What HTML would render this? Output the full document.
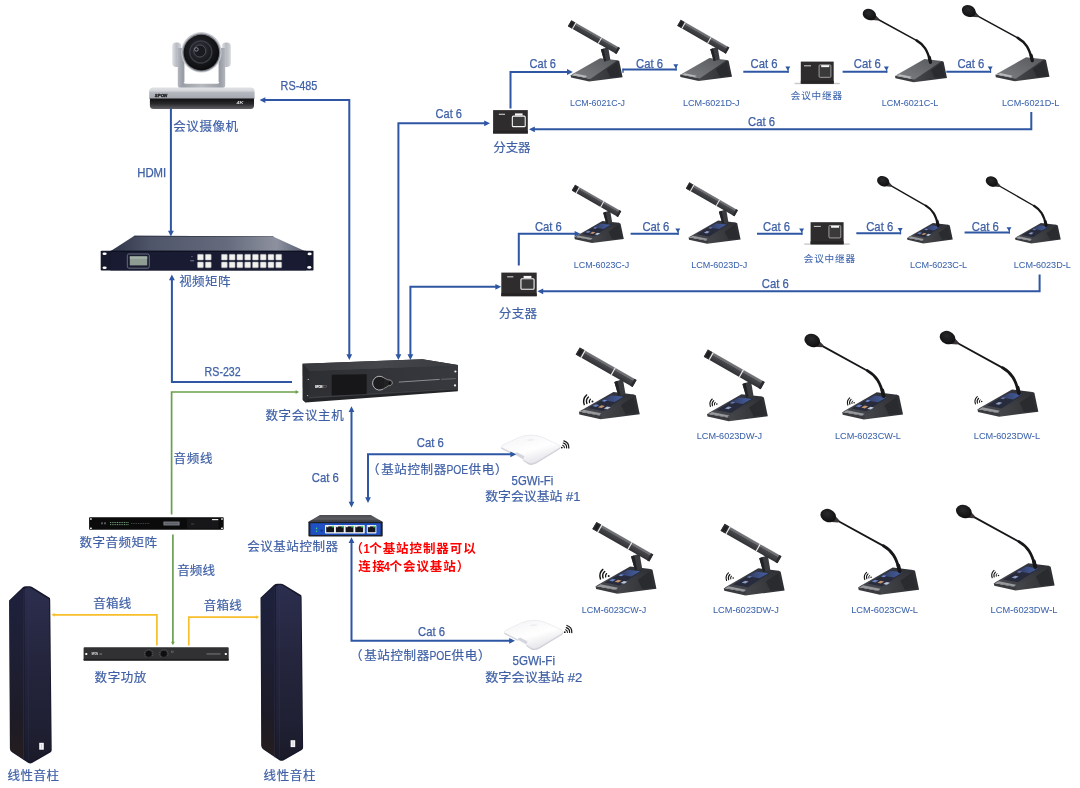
<!DOCTYPE html>
<html lang="zh-CN">
<head>
<meta charset="utf-8">
<title>数字会议系统连接图</title>
<style>
html,body{margin:0;padding:0;background:#fff;}
body{width:1080px;height:788px;overflow:hidden;}
svg{display:block;filter:blur(0.45px);}
text{font-family:"Liberation Sans","Noto Sans CJK SC",sans-serif;white-space:pre;}
text.c{font-family:"Liberation Sans","Noto Sans CJK SC",sans-serif;}
text.l{font-family:"Liberation Sans","Noto Sans CJK SC",sans-serif;}
</style>
</head>
<body>
<svg width="1080" height="788" viewBox="0 0 1080 788">
<defs>

<linearGradient id="gTop" x1="0" y1="1" x2="1" y2="0"><stop offset="0" stop-color="#7d7f83"/><stop offset="1" stop-color="#56585c"/></linearGradient>
<linearGradient id="gTopT" x1="0" y1="1" x2="1" y2="0"><stop offset="0" stop-color="#4a4c52"/><stop offset="1" stop-color="#2c2e34"/></linearGradient>
<linearGradient id="gSide" x1="0" y1="0" x2="1" y2="0"><stop offset="0" stop-color="#46474b"/><stop offset="1" stop-color="#2c2d31"/></linearGradient>
<linearGradient id="gBar" x1="0" y1="0" x2="0" y2="1"><stop offset="0" stop-color="#77787c"/><stop offset="0.28" stop-color="#6a6b6f"/><stop offset="0.34" stop-color="#47484c"/><stop offset="1" stop-color="#303135"/></linearGradient>
<linearGradient id="gScr" x1="0" y1="0" x2="1" y2="0"><stop offset="0" stop-color="#333c60"/><stop offset="1" stop-color="#4560a4"/></linearGradient>
<radialGradient id="gHead" cx="0.4" cy="0.4" r="0.7"><stop offset="0" stop-color="#2a2a2c"/><stop offset="1" stop-color="#0c0c0d"/></radialGradient>

<g id="baseP"><polygon points="18,2 40,-14 46.9,-15.3 48.6,-14.5 52,1.6 18.6,5.9" fill="url(#gSide)"/><polygon points="36,-6 46.5,-13.2 49.3,0.6 40,1.8" fill="#2a2b2f"/><polygon points="0,-0.6 19.6,3.1 18.6,5.9 0.4,1.9" fill="#3a3b3f"/><polygon points="0.6,-0.8 29.5,-17.3 46.9,-15.3 19.6,3.3" fill="url(#gTop)"/><polygon points="2.2,-0.7 4.6,-2 16.6,0.5 14.6,1.9" fill="#b9babd"/></g>
<g id="baseT"><polygon points="18,2 40,-14 46.9,-15.3 48.6,-14.5 52,1.6 18.6,5.9" fill="url(#gSide)"/><polygon points="36,-6 46.5,-13.2 49.3,0.6 40,1.8" fill="#2a2b2f"/><polygon points="0,-0.6 19.6,3.1 18.6,5.9 0.4,1.9" fill="#3a3b3f"/><polygon points="0.6,-0.8 29.5,-17.3 46.9,-15.3 19.6,3.3" fill="url(#gTopT)"/><polygon points="8,-3.6 27.5,-14.8 39,-13.2 20.5,-1.2" fill="#272b3b"/><polygon points="20,-10.6 27.8,-14.6 38,-13.2 30.6,-8.8" fill="url(#gScr)"/><polygon points="11.5,-5.3 14.3,-6.9 17.3,-6.3 14.6,-4.6" fill="#6580bd"/><polygon points="16.3,-4.3 19.2,-6 22.2,-5.4 19.4,-3.6" fill="#c4936c"/><polygon points="21.3,-3.3 24.2,-5 27.2,-4.4 24.4,-2.6" fill="#bcc5da"/><polygon points="19.5,-9.6 21.6,-10.8 24.2,-10.3 22,-9" fill="#6f8fd6"/><polygon points="1.6,-0.5 4.2,-2.1 19,0.9 17.4,2.5" fill="#97999d"/></g>
<g id="baseD"><polygon points="18,2 40,-14 46.9,-15.3 48.6,-14.5 52,1.6 18.6,5.9" fill="url(#gSide)"/><polygon points="36,-6 46.5,-13.2 49.3,0.6 40,1.8" fill="#2a2b2f"/><polygon points="0,-0.6 19.6,3.1 18.6,5.9 0.4,1.9" fill="#3a3b3f"/><polygon points="0.6,-0.8 29.5,-17.3 46.9,-15.3 19.6,3.3" fill="url(#gTopT)"/><polygon points="8,-3.6 27.5,-14.8 39,-13.2 20.5,-1.2" fill="#272b3b"/><polygon points="20,-10.6 27.8,-14.6 38,-13.2 30.6,-8.8" fill="url(#gScr)"/><polygon points="15.3,-5.0 18.2,-6.7 21.2,-6.1 18.4,-4.3" fill="#8e9cc4"/><polygon points="19.5,-9.6 21.6,-10.8 24.2,-10.3 22,-9" fill="#6577a8"/><polygon points="1.6,-0.5 4.2,-2.1 19,0.9 17.4,2.5" fill="#97999d"/></g>
<g id="micJ"><polygon points="30.3,-26 37.6,-28.5 39.8,-15.6 33.7,-14.2" fill="#3a3b3f"/><polygon points="30.3,-26 33,-27 35.6,-14.6 33.7,-14.2" fill="#222326"/><g transform="translate(-1,-52.4) rotate(29.77)"><rect x="0" y="-3.5" width="55.99" height="7" fill="url(#gBar)"/><rect x="0" y="-3.5" width="4.6" height="7" fill="#303134"/><rect x="0.9" y="-2.3" width="3" height="4.8" fill="#1f2022"/><rect x="4.8" y="-3.5" width="1" height="7" fill="#ececee"/><rect x="34.5" y="-3.5" width="1" height="7" fill="#ececee"/><rect x="53.79" y="-3.5" width="2.2" height="7" fill="#2a2b2e"/></g></g>
<g id="micL"><path d="M -19.5,-58.3 L 22.3,-35.4" stroke="#17171a" stroke-width="1.5" fill="none" stroke-linecap="round"/><path d="M 21.5,-35.9 C 29,-31.5 32.5,-26 35.2,-15" stroke="#17171a" stroke-width="2.4" fill="none" stroke-linecap="round"/><path d="M 34.3,-19 L 35.5,-14" stroke="#17171a" stroke-width="3.2" fill="none" stroke-linecap="round"/><polygon points="-22.5,-64.5 -16,-57.5 -17.2,-55.8 -26,-56.5" fill="#3b3537"/><ellipse cx="-25.6" cy="-61.7" rx="6.9" ry="5.5" transform="rotate(24 -25.6 -61.7)" fill="url(#gHead)"/></g>
<g id="wifi"><g fill="none" stroke="#161617" stroke-linecap="round"><path d="M -2.54,0.92 A 2.7,2.7 0 0 1 -1.81,-2.01" stroke-width="1.1"/><path d="M -4.79,1.74 A 5.1,5.1 0 0 1 -3.41,-3.79" stroke-width="1.2"/><path d="M -7.05,2.57 A 7.5,7.5 0 0 1 -5.02,-5.57" stroke-width="1.25"/></g><circle cx="0" cy="0" r="0.85" fill="#161617"/></g>

<linearGradient id="gSilv" x1="0" y1="0" x2="0" y2="1"><stop offset="0" stop-color="#e0e2e6"/><stop offset="0.3" stop-color="#d2d4d9"/><stop offset="0.4" stop-color="#b6b9c0"/><stop offset="1" stop-color="#a2a5ad"/></linearGradient>
<linearGradient id="gArm" x1="0" y1="0" x2="1" y2="0"><stop offset="0" stop-color="#b3b6bd"/><stop offset="0.1" stop-color="#9a9ea6"/><stop offset="0.5" stop-color="#b7babf"/><stop offset="0.9" stop-color="#9a9ea6"/><stop offset="1" stop-color="#b3b6bd"/></linearGradient>
<linearGradient id="gEar" x1="0" y1="0" x2="1" y2="0"><stop offset="0" stop-color="#dfe1e5"/><stop offset="0.5" stop-color="#b7bac1"/><stop offset="1" stop-color="#d5d7dc"/></linearGradient>
<linearGradient id="gBlk" x1="0" y1="0" x2="0" y2="1"><stop offset="0" stop-color="#0f0f11"/><stop offset="0.5" stop-color="#29292c"/><stop offset="1" stop-color="#626266"/></linearGradient>
<radialGradient id="gLens" cx="0.45" cy="0.42" r="0.62"><stop offset="0" stop-color="#3b3d44"/><stop offset="0.45" stop-color="#1d1e23"/><stop offset="1" stop-color="#0a0a0c"/></radialGradient>


<linearGradient id="gMtop" x1="0" y1="0" x2="1" y2="0"><stop offset="0" stop-color="#2f3448"/><stop offset="0.2" stop-color="#4f5568"/><stop offset="0.6" stop-color="#666c7e"/><stop offset="0.85" stop-color="#8d919f"/><stop offset="1" stop-color="#565c6f"/></linearGradient>


<linearGradient id="gHtop" x1="0" y1="0" x2="1" y2="0"><stop offset="0" stop-color="#37383c"/><stop offset="0.5" stop-color="#45464b"/><stop offset="1" stop-color="#3a3b3f"/></linearGradient>
<linearGradient id="gHfr" x1="0" y1="0" x2="1" y2="0"><stop offset="0" stop-color="#2e2f33"/><stop offset="1" stop-color="#38393e"/></linearGradient>


<linearGradient id="gSpL" x1="0" y1="0" x2="0" y2="1"><stop offset="0" stop-color="#1e213d"/><stop offset="0.4" stop-color="#1e1f34"/><stop offset="0.75" stop-color="#1d1b27"/><stop offset="1" stop-color="#251d1e"/></linearGradient>
<linearGradient id="gSpR" x1="0" y1="0" x2="0" y2="1"><stop offset="0" stop-color="#2b2e4e"/><stop offset="0.4" stop-color="#25263e"/><stop offset="0.8" stop-color="#1f2033"/><stop offset="1" stop-color="#1a1a28"/></linearGradient>
<g id="spk">
<path d="M 9.1,600.4 L 22.6,587.6 Q 24,586.3 26,586.3 L 29.5,586.3 Q 31,586.3 32.6,587.3 L 49.9,597.9 L 50.2,600 L 51.7,750.2 Q 51.7,751.8 50.3,752.5 L 32,763 Q 30.2,763.9 28.4,763 L 12.4,752.4 Q 9.9,750.8 9.9,748.4 Z" fill="#15162a"/>
<path d="M 9.6,601 L 22.9,588.6 L 23.6,759 L 12.6,751.8 Q 10.2,750.4 10.2,748.4 Z" fill="url(#gSpL)"/>
<path d="M 24.4,589 L 27,587.4 L 30,587.4 L 49.2,599.4 L 50.9,750.2 L 31.4,761.6 Q 30,762.4 28.6,761.6 L 24.6,759 Z" fill="url(#gSpR)"/>
<rect x="27.9" y="588.4" width="0.7" height="172" fill="#33355a" opacity="0.5"/>
<rect x="23" y="589" width="0.8" height="171" fill="#363858" opacity="0.6"/>
<rect x="39.2" y="742.8" width="4.6" height="6.9" fill="#f4f4f6"/>
<rect x="41.3" y="744" width="0.6" height="4.4" fill="#b5b5bd"/>
</g>

<linearGradient id="gCtl" x1="0" y1="0" x2="0" y2="1"><stop offset="0" stop-color="#4a4b4e"/><stop offset="0.6" stop-color="#5d5e62"/><stop offset="1" stop-color="#2b2c2f"/></linearGradient>

<linearGradient id="gAp" x1="0" y1="0" x2="0.6" y2="1"><stop offset="0" stop-color="#f3f3f6"/><stop offset="0.6" stop-color="#ffffff"/><stop offset="1" stop-color="#e4e4ea"/></linearGradient>
<g id="ap">
<path d="M 1.2,28.6 Q -0.4,27.6 2,26.2 L 17,19 Q 30,13.2 43,18.8 L 58.4,26 Q 60.6,27.2 59,28.8 L 36,42.8 Q 31,45.6 27.6,43.8 L 22.6,40.4 L 23.6,37.4 L 16.4,33.6 L 14,35.2 Z" fill="#cfcfd8"/>
<path d="M 1.2,27.2 Q -0.4,26.2 2,24.8 L 17,17.6 Q 30,11.8 43,17.4 L 58.4,24.6 Q 60.6,25.8 59,27.4 L 36,41.2 Q 31,44 27.6,42.2 L 22.6,39 L 23.6,36 L 16.4,32.2 L 14,33.8 Z" fill="url(#gAp)" stroke="#e2e2e9" stroke-width="0.6"/>
<path d="M 14,33.8 L 16.4,32.2 L 23.6,36 L 22.6,39 Z" fill="#d5d5dd"/>
<path d="M 27,19.8 L 33,19.4" stroke="#dddde5" stroke-width="0.7"/>
</g>
<g id="apw" fill="none" stroke="#161617" stroke-linecap="round">
<path d="M 0.9,-2.4 A 2.6 2.6 0 0 1 2.6,0.2" stroke-width="1.1"/>
<path d="M 1.5,-4.6 A 4.8 4.8 0 0 1 4.8,0.3" stroke-width="1.2"/>
<path d="M 2.1,-6.7 A 7 7 0 0 1 7,0.4" stroke-width="1.25"/>
<circle cx="0" cy="0" r="0.9" fill="#161617" stroke="none"/>
</g>

</defs>
<rect x="0" y="0" width="1080" height="788" fill="#ffffff"/>
<polyline points="518.8,265.5 518.8,233.8 577.4,233.8" fill="none" stroke="#2e56a2" stroke-width="2" stroke-linejoin="miter"/><polygon points="580.4,233.8 574.6,236.7 574.6,230.9" fill="#2e56a2"/>
<g><rect x="172.2" y="42.6" width="9" height="24.4" rx="4" fill="url(#gEar)"/><rect x="221.8" y="42.6" width="9" height="24.4" rx="4" fill="url(#gEar)"/><path d="M 177.8,48 L 177.8,85 Q 177.8,88.6 182,88.6 L 221,88.6 Q 225.2,88.6 225.2,85 L 225.2,48 L 219.4,48 L 219.4,81.8 Q 219.4,83.8 217.2,83.8 L 185.8,83.8 Q 183.6,83.8 183.6,81.8 L 183.6,48 Z" fill="url(#gArm)"/><rect x="183.2" y="60" width="1.2" height="22" fill="#8f939b"/><rect x="218.6" y="60" width="1.2" height="22" fill="#8f939b"/><circle cx="201.4" cy="52.3" r="20.2" fill="#c9ccd2"/><circle cx="201.4" cy="52.6" r="19" fill="#7f828a"/><circle cx="201.4" cy="52.6" r="17.8" fill="url(#gLens)"/><circle cx="200.8" cy="52" r="11" fill="none" stroke="#3a3c44" stroke-width="1.4"/><circle cx="199.8" cy="51" r="6" fill="#1a1b20" stroke="#50535c" stroke-width="0.9"/><circle cx="196.4" cy="49.4" r="1.8" fill="none" stroke="#9aa1b0" stroke-width="0.8"/><path d="M 152.5,87.6 L 251.5,87.6 Q 254.6,88.2 254.6,91.5 L 254.6,99 L 149.2,99 L 149.2,91.5 Q 149.2,88.2 152.5,87.6 Z" fill="url(#gSilv)"/><path d="M 149.9,98.5 L 254,98.5 L 254,105.5 Q 254,109 250.5,109 L 153.5,109 Q 149.9,109 149.9,105.5 Z" fill="url(#gBlk)"/><text x="154.8" y="96.9" font-size="4.2" font-weight="bold" font-style="italic" fill="#18181a" stroke="#18181a" stroke-width="0.3" textLength="12.4" lengthAdjust="spacingAndGlyphs">SPON</text><text x="236.4" y="104.2" font-size="3.4" font-weight="bold" font-style="italic" fill="#d8d8d8" textLength="7" lengthAdjust="spacingAndGlyphs">4K</text></g>
<g><polygon points="134.4,235.8 273,236.4 305.8,251.4 110.4,251.2" fill="url(#gMtop)"/><polygon points="134.4,235.8 273,236.4 274,236.9 133.6,236.4" fill="#272b3f"/><rect x="100.7" y="250.8" width="212.8" height="19.8" rx="0.8" fill="#15182c"/><rect x="110.5" y="251" width="195.5" height="19.4" fill="#181b31"/><rect x="110.5" y="250.8" width="195.5" height="1" fill="#0c0e1c"/><ellipse cx="104.6" cy="253.8" rx="2.1" ry="1.3" fill="#ffffff"/><ellipse cx="104.6" cy="267.8" rx="2.1" ry="1.3" fill="#ffffff"/><ellipse cx="309.6" cy="253.9" rx="2.1" ry="1.3" fill="#ffffff"/><ellipse cx="309.3" cy="267.4" rx="2.1" ry="1.3" fill="#ffffff"/><rect x="127.3" y="254" width="22" height="14.2" rx="1.6" fill="#1a1d30" stroke="#8a8ea0" stroke-width="0.7"/><rect x="129.8" y="256.4" width="17.4" height="9" fill="#8f9c93"/><rect x="129.8" y="256.4" width="17.4" height="2.4" fill="#a3aea6"/><rect x="197.5" y="254.3" width="5.9" height="5.8" rx="0.7" fill="#f1f1ee" stroke="#9a9ca6" stroke-width="0.5"/><rect x="197.5" y="262" width="5.9" height="5.8" rx="0.7" fill="#f1f1ee" stroke="#9a9ca6" stroke-width="0.5"/><rect x="205.3" y="254.3" width="5.9" height="5.8" rx="0.7" fill="#f1f1ee" stroke="#9a9ca6" stroke-width="0.5"/><rect x="205.3" y="262" width="5.9" height="5.8" rx="0.7" fill="#f1f1ee" stroke="#9a9ca6" stroke-width="0.5"/><rect x="221.4" y="254.3" width="5.9" height="5.8" rx="0.7" fill="#f1f1ee" stroke="#9a9ca6" stroke-width="0.5"/><rect x="221.4" y="262" width="5.9" height="5.8" rx="0.7" fill="#f1f1ee" stroke="#9a9ca6" stroke-width="0.5"/><rect x="229.17" y="254.3" width="5.9" height="5.8" rx="0.7" fill="#f1f1ee" stroke="#9a9ca6" stroke-width="0.5"/><rect x="229.17" y="262" width="5.9" height="5.8" rx="0.7" fill="#f1f1ee" stroke="#9a9ca6" stroke-width="0.5"/><rect x="236.94" y="254.3" width="5.9" height="5.8" rx="0.7" fill="#f1f1ee" stroke="#9a9ca6" stroke-width="0.5"/><rect x="236.94" y="262" width="5.9" height="5.8" rx="0.7" fill="#f1f1ee" stroke="#9a9ca6" stroke-width="0.5"/><rect x="244.71" y="254.3" width="5.9" height="5.8" rx="0.7" fill="#f1f1ee" stroke="#9a9ca6" stroke-width="0.5"/><rect x="244.71" y="262" width="5.9" height="5.8" rx="0.7" fill="#f1f1ee" stroke="#9a9ca6" stroke-width="0.5"/><rect x="252.48" y="254.3" width="5.9" height="5.8" rx="0.7" fill="#f1f1ee" stroke="#9a9ca6" stroke-width="0.5"/><rect x="252.48" y="262" width="5.9" height="5.8" rx="0.7" fill="#f1f1ee" stroke="#9a9ca6" stroke-width="0.5"/><rect x="260.25" y="254.3" width="5.9" height="5.8" rx="0.7" fill="#f1f1ee" stroke="#9a9ca6" stroke-width="0.5"/><rect x="260.25" y="262" width="5.9" height="5.8" rx="0.7" fill="#f1f1ee" stroke="#9a9ca6" stroke-width="0.5"/><rect x="268.02" y="254.3" width="5.9" height="5.8" rx="0.7" fill="#f1f1ee" stroke="#9a9ca6" stroke-width="0.5"/><rect x="268.02" y="262" width="5.9" height="5.8" rx="0.7" fill="#f1f1ee" stroke="#9a9ca6" stroke-width="0.5"/><rect x="275.79" y="254.3" width="5.9" height="5.8" rx="0.7" fill="#f1f1ee" stroke="#9a9ca6" stroke-width="0.5"/><rect x="275.79" y="262" width="5.9" height="5.8" rx="0.7" fill="#f1f1ee" stroke="#9a9ca6" stroke-width="0.5"/><rect x="190.2" y="260.4" width="3.8" height="0.8" fill="#9095aa"/><circle cx="192" cy="256.6" r="0.5" fill="#9095aa"/></g>
<g><polygon points="302.6,363.8 422.5,359.3 457.9,365 457.9,391.3 305.6,402.5 302.8,400" fill="#232427"/><polygon points="302.6,363.8 422.5,359.3 457.9,365 457.9,366 309.2,371.4" fill="url(#gHtop)"/><polygon points="302.6,363.8 309.2,371.2 309.2,397 305.6,402.5 302.8,400" fill="#2a2b2e"/><polygon points="309.2,371.2 457.9,365.6 457.9,388 309.2,396.8" fill="url(#gHfr)"/><polygon points="309.2,396.8 457.9,388 457.9,389.4 308.4,398.6" fill="#3d3e42"/><polygon points="331.7,374.7 366.7,374.2 366.7,394 331.7,395.5" fill="#17171a"/><circle cx="379.6" cy="383.2" r="6.7" fill="#1d1d20"/><path d="M 383.6,377.6 A 6.9 6.9 0 1 0 383.2,389" fill="none" stroke="#c3c4c7" stroke-width="0.9"/><path d="M 384,377.8 Q 387.4,380.4 390.8,380.2 Q 393,381.8 392.2,384 Q 391,386.2 388.4,385.8 Q 386,387.6 383.4,388.8" fill="#222225" stroke="#b4b5b8" stroke-width="0.7"/><circle cx="389.6" cy="383" r="1.1" fill="#0d0d0e"/><line x1="398.8" y1="382.1" x2="439.6" y2="379.4" stroke="#8b8c90" stroke-width="1"/><line x1="441.3" y1="379.3" x2="455.8" y2="378.6" stroke="#6a6b70" stroke-width="0.9"/><text x="315" y="387.6" font-size="3" font-weight="bold" fill="#ededed" stroke="#ededed" stroke-width="0.2" textLength="7.4" lengthAdjust="spacingAndGlyphs">SPON</text><rect x="323.6" y="385.6" width="2.6" height="1.7" fill="none" stroke="#8a8b8f" stroke-width="0.35"/><circle cx="455.4" cy="371.5" r="1.1" fill="#f0f0f2"/><circle cx="455" cy="385.4" r="1.1" fill="#f0f0f2"/><circle cx="308.3" cy="379.4" r="0.7" fill="#b8b8bb"/><circle cx="307.6" cy="395.6" r="0.7" fill="#b8b8bb"/></g>
<g><rect x="89.1" y="517.3" width="134.6" height="12.5" rx="0.8" fill="#0b0b0c"/><rect x="187" y="518.6" width="31.5" height="10" fill="#17171a"/><rect x="163.5" y="521.6" width="16" height="3.8" fill="#8d9096"/><rect x="164.3" y="522.3" width="14.4" height="2.4" fill="#5d6066"/><rect x="110" y="522" width="1" height="0.9" fill="#7fae8a"/><rect x="110" y="524.2" width="1" height="0.9" fill="#7fae8a"/><rect x="111.75" y="522" width="1" height="0.9" fill="#7fae8a"/><rect x="111.75" y="524.2" width="1" height="0.9" fill="#7fae8a"/><rect x="113.5" y="522" width="1" height="0.9" fill="#7fae8a"/><rect x="113.5" y="524.2" width="1" height="0.9" fill="#7fae8a"/><rect x="115.25" y="522" width="1" height="0.9" fill="#7fae8a"/><rect x="115.25" y="524.2" width="1" height="0.9" fill="#7fae8a"/><rect x="117" y="522" width="1" height="0.9" fill="#7fae8a"/><rect x="117" y="524.2" width="1" height="0.9" fill="#7fae8a"/><rect x="118.75" y="522" width="1" height="0.9" fill="#7fae8a"/><rect x="118.75" y="524.2" width="1" height="0.9" fill="#7fae8a"/><rect x="120.5" y="522" width="1" height="0.9" fill="#7fae8a"/><rect x="120.5" y="524.2" width="1" height="0.9" fill="#7fae8a"/><rect x="122.25" y="522" width="1" height="0.9" fill="#7fae8a"/><rect x="122.25" y="524.2" width="1" height="0.9" fill="#7fae8a"/><rect x="124" y="522" width="1" height="0.9" fill="#7fae8a"/><rect x="124" y="524.2" width="1" height="0.9" fill="#7fae8a"/><rect x="125.75" y="522" width="1" height="0.9" fill="#7fae8a"/><rect x="125.75" y="524.2" width="1" height="0.9" fill="#7fae8a"/><rect x="127.5" y="522" width="1" height="0.9" fill="#7fae8a"/><rect x="127.5" y="524.2" width="1" height="0.9" fill="#7fae8a"/><rect x="131" y="523" width="0.8" height="0.7" fill="#6d7074"/><rect x="132.75" y="523" width="0.8" height="0.7" fill="#6d7074"/><rect x="134.5" y="523" width="0.8" height="0.7" fill="#6d7074"/><rect x="136.25" y="523" width="0.8" height="0.7" fill="#6d7074"/><rect x="138" y="523" width="0.8" height="0.7" fill="#6d7074"/><rect x="139.75" y="523" width="0.8" height="0.7" fill="#6d7074"/><rect x="141.5" y="523" width="0.8" height="0.7" fill="#6d7074"/><rect x="143.25" y="523" width="0.8" height="0.7" fill="#6d7074"/><rect x="145" y="523" width="0.8" height="0.7" fill="#6d7074"/><rect x="146.75" y="523" width="0.8" height="0.7" fill="#6d7074"/><rect x="148.5" y="523" width="0.8" height="0.7" fill="#6d7074"/><rect x="101.5" y="522.3" width="1" height="2" fill="#9a9da2"/><rect x="104.5" y="522.3" width="1" height="2" fill="#9a9da2"/><rect x="212" y="519" width="6.3" height="1.2" fill="#e9e9e9"/><rect x="191" y="523" width="3" height="2" fill="#2c2c30"/><rect x="90" y="518.15" width="1.8" height="1.5" rx="0.5" fill="#f2f2f2"/><rect x="90" y="527.45" width="1.8" height="1.5" rx="0.5" fill="#f2f2f2"/><rect x="221.1" y="518.15" width="1.8" height="1.5" rx="0.5" fill="#f2f2f2"/><rect x="221.1" y="527.45" width="1.8" height="1.5" rx="0.5" fill="#f2f2f2"/></g>
<g><rect x="83.6" y="647.2" width="145.1" height="13.4" rx="0.8" fill="#313134"/><rect x="83.6" y="658.9" width="145.1" height="1.7" fill="#1d1d1f"/><circle cx="148.7" cy="653.8" r="3" fill="#0e0e10"/><path d="M 145.4,656.6 A 4.3 4.3 0 1 1 152,656.6" fill="none" stroke="#8d8d92" stroke-width="0.5" stroke-dasharray="0.8 1.1"/><circle cx="163.8" cy="653.8" r="3" fill="#0e0e10"/><path d="M 160.5,656.6 A 4.3 4.3 0 1 1 167.1,656.6" fill="none" stroke="#8d8d92" stroke-width="0.5" stroke-dasharray="0.8 1.1"/><rect x="85.2" y="653" width="2.1" height="1.9" rx="0.4" fill="#f4f4f4"/><rect x="224.8" y="653" width="2.1" height="1.9" rx="0.4" fill="#f4f4f4"/><text x="91.6" y="655" font-size="2.8" font-weight="bold" fill="#ececec" textLength="6.4" lengthAdjust="spacingAndGlyphs">SPON</text><rect x="99.5" y="653.4" width="2.6" height="1.2" fill="#77777b"/><rect x="206.5" y="653.3" width="14" height="1.3" fill="#6a6a6e"/><rect x="171.6" y="651" width="1.8" height="1.8" fill="none" stroke="#8a8a8e" stroke-width="0.4"/></g>
<use href="#spk" transform="translate(0,0)"/>
<use href="#spk" transform="translate(251.4,-2.6)"/>
<g><polygon points="320,515 370.8,515 382.7,521.8 308.4,521.8" fill="url(#gCtl)"/><rect x="308.4" y="521.4" width="74.3" height="15.2" rx="0.8" fill="#1d1f26"/><rect x="310.4" y="523.2" width="70.3" height="11.7" fill="#1f50c4"/><rect x="325" y="525" width="39.8" height="8.6" rx="0.8" fill="#f0f2f6"/><rect x="366.8" y="525" width="9.6" height="8.6" rx="0.8" fill="#f0f2f6"/><rect x="326.2" y="526.4" width="7.8" height="5.8" fill="#16171a"/><rect x="331.8" y="525.8" width="2.2" height="1.6" fill="#3fd15a"/><rect x="326.4" y="525.8" width="2" height="1.4" fill="#e8eaee"/><rect x="335.9" y="526.4" width="7.8" height="5.8" fill="#16171a"/><rect x="341.5" y="525.8" width="2.2" height="1.6" fill="#3fd15a"/><rect x="336.1" y="525.8" width="2" height="1.4" fill="#e8eaee"/><rect x="345.6" y="526.4" width="7.8" height="5.8" fill="#16171a"/><rect x="351.2" y="525.8" width="2.2" height="1.6" fill="#3fd15a"/><rect x="345.8" y="525.8" width="2" height="1.4" fill="#e8eaee"/><rect x="355.3" y="526.4" width="7.8" height="5.8" fill="#16171a"/><rect x="360.9" y="525.8" width="2.2" height="1.6" fill="#3fd15a"/><rect x="355.5" y="525.8" width="2" height="1.4" fill="#e8eaee"/><rect x="367.8" y="526.4" width="7.6" height="5.8" fill="#16171a"/><rect x="373.2" y="525.8" width="2.2" height="1.6" fill="#3fd15a"/><rect x="368" y="525.8" width="2" height="1.4" fill="#e8eaee"/><circle cx="316.6" cy="528.4" r="0.8" fill="#49d46a"/><circle cx="316.6" cy="531.2" r="0.8" fill="#49d46a"/><circle cx="321.6" cy="530.6" r="1.2" fill="#17337a"/></g>
<use href="#ap" transform="translate(500.6,420.4)"/>
<use href="#apw" transform="translate(561.8,447.6)"/>
<use href="#ap" transform="translate(503.6,605.6)"/>
<use href="#apw" transform="translate(564.8,632.2)"/>
<g transform="translate(493.1,110.1)"><rect x="0" y="0" width="34.7" height="23.4" fill="#2f2c2d"/><rect x="0" y="20.4" width="34.7" height="3" fill="#272425"/><rect x="19.24" y="6.07" width="12.88" height="10.47" rx="1" fill="#3b3a3b" stroke="#f4f4f4" stroke-width="1.1"/><rect x="21.86" y="3.28" width="7.63" height="2.2" fill="#f6f6f6"/><rect x="5.73" y="3.63" width="6.2" height="1.1" fill="#cfcfcf"/></g>
<g transform="translate(501.3,272.6)"><rect x="0" y="0" width="35.4" height="23.6" fill="#2f2c2d"/><rect x="0" y="20.6" width="35.4" height="3" fill="#272425"/><rect x="19.62" y="6.12" width="13.16" height="10.56" rx="1" fill="#3b3a3b" stroke="#f4f4f4" stroke-width="1.1"/><rect x="22.3" y="3.3" width="7.79" height="2.2" fill="#f6f6f6"/><rect x="5.84" y="3.66" width="6.2" height="1.1" fill="#cfcfcf"/></g>
<g transform="translate(800.8,61.6)"><rect x="-6.3" y="21.2" width="45.3" height="1.4" fill="#c9c9c9"/><rect x="0" y="0" width="32.9" height="22.1" fill="#2f2c2d"/><rect x="0" y="19.1" width="32.9" height="3" fill="#272425"/><rect x="18.27" y="3.27" width="11.83" height="12.46" rx="1" fill="#3b3a3b" stroke="#a9a9a9" stroke-width="0.9"/><rect x="20.4" y="3.54" width="7.99" height="2" fill="#f6f6f6"/><rect x="3.2" y="3.65" width="7" height="1.1" fill="#c4c4c4"/></g>
<g transform="translate(810.6,222.2)"><rect x="-6.3" y="21.2" width="45.4" height="1.4" fill="#c9c9c9"/><rect x="0" y="0" width="33" height="22.1" fill="#2f2c2d"/><rect x="0" y="19.1" width="33" height="3" fill="#272425"/><rect x="18.32" y="3.27" width="11.87" height="12.46" rx="1" fill="#3b3a3b" stroke="#a9a9a9" stroke-width="0.9"/><rect x="20.46" y="3.54" width="8.02" height="2" fill="#f6f6f6"/><rect x="3.2" y="3.65" width="7" height="1.1" fill="#c4c4c4"/></g>
<g transform="translate(570.6,75.6) scale(1)"><use href="#baseP"/><use href="#micJ"/></g>
<g transform="translate(680,75.2) scale(1)"><use href="#baseP"/><use href="#micJ"/></g>
<g transform="translate(895,76.3) scale(1)"><use href="#baseP"/><use href="#micL"/></g>
<g transform="translate(995.4,75.2) scale(1.04)"><use href="#baseP"/><use href="#micL"/></g>
<g transform="translate(574.4,237.4) scale(0.95)"><use href="#baseT"/><use href="#micJ"/></g>
<g transform="translate(688.6,237.8) scale(1)"><use href="#baseD"/><use href="#micJ"/></g>
<g transform="translate(907,238.2) scale(0.88)"><use href="#baseT"/><use href="#micL" transform="translate(35.2,-15) rotate(1.1) scale(1.04) translate(-35.2,15)"/></g>
<g transform="translate(1015,238.2) scale(0.88)"><use href="#baseD"/><use href="#micL" transform="translate(35.2,-15) rotate(1.2) scale(1.03) translate(-35.2,15)"/></g>
<g transform="translate(578.9,412.3) scale(1.17)"><use href="#baseT"/><use href="#micJ"/><use href="#wifi" transform="translate(11.6,-9.2) scale(1)"/></g>
<g transform="translate(707,414.4) scale(1.17)"><use href="#baseD"/><use href="#micJ"/><use href="#wifi" transform="translate(8.4,-8.8) scale(0.78)"/></g>
<g transform="translate(842.2,412.6) scale(1.17)"><use href="#baseT"/><use href="#micL"/><use href="#wifi" transform="translate(10.2,-8.4) scale(0.76)"/></g>
<g transform="translate(977.5,409.8) scale(1.17)"><use href="#baseD"/><use href="#micL"/><use href="#wifi" transform="translate(3.6,-7) scale(0.76)"/></g>
<g transform="translate(595.6,586.8) scale(1.17)"><use href="#baseT"/><use href="#micJ"/><use href="#wifi" transform="translate(11.2,-9.3) scale(1)"/></g>
<g transform="translate(723.8,588.6) scale(1.17)"><use href="#baseD"/><use href="#micJ"/><use href="#wifi" transform="translate(8,-9) scale(0.8)"/></g>
<g transform="translate(858.2,587.8) scale(1.17)"><use href="#baseT"/><use href="#micL"/><use href="#wifi" transform="translate(11,-9) scale(0.76)"/></g>
<g transform="translate(993.8,583.6) scale(1.17)"><use href="#baseD"/><use href="#micL"/><use href="#wifi" transform="translate(4,-7) scale(0.76)"/></g>
<polyline points="170.9,108.6 170.9,233.6" fill="none" stroke="#2e56a2" stroke-width="2" stroke-linejoin="miter"/><polygon points="170.9,236.6 168,230.8 173.8,230.8" fill="#2e56a2"/>
<polyline points="262.6,100.1 349.3,100.1 349.3,357" fill="none" stroke="#2e56a2" stroke-width="2" stroke-linejoin="miter"/><polygon points="259.6,100.1 265.4,97.2 265.4,103" fill="#2e56a2"/><polygon points="349.3,360 346.4,354.2 352.2,354.2" fill="#2e56a2"/>
<polyline points="292,381.9 171.9,381.9 171.9,277.4" fill="none" stroke="#2e56a2" stroke-width="2" stroke-linejoin="miter"/><polygon points="171.9,274.4 174.8,280.2 169,280.2" fill="#2e56a2"/>
<polyline points="398.4,357 398.4,123.3 487,123.3" fill="none" stroke="#2e56a2" stroke-width="2" stroke-linejoin="miter"/><polygon points="398.4,360 395.5,354.2 401.3,354.2" fill="#2e56a2"/><polygon points="490,123.3 484.2,126.2 484.2,120.4" fill="#2e56a2"/>
<polyline points="410.4,357 410.4,286.8 498.2,286.8" fill="none" stroke="#2e56a2" stroke-width="2" stroke-linejoin="miter"/><polygon points="410.4,360 407.5,354.2 413.3,354.2" fill="#2e56a2"/><polygon points="501.2,286.8 495.4,289.7 495.4,283.9" fill="#2e56a2"/>
<polyline points="510.5,108.4 510.5,72 569.8,72" fill="none" stroke="#2e56a2" stroke-width="2" stroke-linejoin="miter"/><polygon points="572.8,72 567,74.9 567,69.1" fill="#2e56a2"/>
<line x1="622.4" y1="69.6" x2="676.7" y2="69.6" stroke="#2e56a2" stroke-width="2"/><polygon points="673.3,64.3 678.3,64.3 675.8,68.3" fill="#2e56a2"/><line x1="676.15" y1="66.1" x2="676.15" y2="70.5" stroke="#2e56a2" stroke-width="1.1"/><line x1="623" y1="68.8" x2="623" y2="72.8" stroke="#2e56a2" stroke-width="1.4"/>
<line x1="743.3" y1="71.8" x2="788.7" y2="71.8" stroke="#2e56a2" stroke-width="2"/><polygon points="785.3,66.5 790.3,66.5 787.8,70.5" fill="#2e56a2"/><line x1="788.15" y1="68.3" x2="788.15" y2="72.7" stroke="#2e56a2" stroke-width="1.1"/>
<line x1="842.6" y1="71.8" x2="887.3" y2="71.8" stroke="#2e56a2" stroke-width="2"/><polygon points="883.9,66.5 888.9,66.5 886.4,70.5" fill="#2e56a2"/><line x1="886.75" y1="68.3" x2="886.75" y2="72.7" stroke="#2e56a2" stroke-width="1.1"/>
<line x1="946.3" y1="71.8" x2="991.1" y2="71.8" stroke="#2e56a2" stroke-width="2"/><polygon points="987.7,66.5 992.7,66.5 990.2,70.5" fill="#2e56a2"/><line x1="990.55" y1="68.3" x2="990.55" y2="72.7" stroke="#2e56a2" stroke-width="1.1"/>
<polyline points="1031.3,112 1031.3,129.3 532,129.3" fill="none" stroke="#2e56a2" stroke-width="2" stroke-linejoin="miter"/><polygon points="529,129.3 534.8,126.4 534.8,132.2" fill="#2e56a2"/>
<line x1="630.6" y1="233.8" x2="678.7" y2="233.8" stroke="#2e56a2" stroke-width="2"/><polygon points="675.3,228.5 680.3,228.5 677.8,232.5" fill="#2e56a2"/><line x1="678.15" y1="230.3" x2="678.15" y2="234.7" stroke="#2e56a2" stroke-width="1.1"/>
<line x1="757" y1="233.8" x2="802.5" y2="233.8" stroke="#2e56a2" stroke-width="2"/><polygon points="799.1,228.5 804.1,228.5 801.6,232.5" fill="#2e56a2"/><line x1="801.95" y1="230.3" x2="801.95" y2="234.7" stroke="#2e56a2" stroke-width="1.1"/>
<line x1="856.3" y1="233.3" x2="901.1" y2="233.3" stroke="#2e56a2" stroke-width="2"/><polygon points="897.7,228 902.7,228 900.2,232" fill="#2e56a2"/><line x1="900.55" y1="229.8" x2="900.55" y2="234.2" stroke="#2e56a2" stroke-width="1.1"/>
<line x1="964.6" y1="232.6" x2="1009.9" y2="232.6" stroke="#2e56a2" stroke-width="2"/><polygon points="1006.5,227.3 1011.5,227.3 1009,231.3" fill="#2e56a2"/><line x1="1009.35" y1="229.1" x2="1009.35" y2="233.5" stroke="#2e56a2" stroke-width="1.1"/>
<polyline points="1039.6,274.6 1039.6,291.3 540.4,291.3" fill="none" stroke="#2e56a2" stroke-width="2" stroke-linejoin="miter"/><polygon points="537.4,291.3 543.2,288.4 543.2,294.2" fill="#2e56a2"/>
<polyline points="351.5,409.2 351.5,504.6" fill="none" stroke="#2e56a2" stroke-width="2" stroke-linejoin="miter"/><polygon points="351.5,406.2 354.4,412 348.6,412" fill="#2e56a2"/><polygon points="351.5,507.6 348.6,501.8 354.4,501.8" fill="#2e56a2"/>
<polyline points="368,500 368,454.3 513.2,454.3" fill="none" stroke="#2e56a2" stroke-width="2" stroke-linejoin="miter"/><polygon points="368,503 365.1,497.2 370.9,497.2" fill="#2e56a2"/><polygon points="516.2,454.3 510.4,457.2 510.4,451.4" fill="#2e56a2"/>
<polyline points="351.5,540.2 351.5,640.8 512,640.8" fill="none" stroke="#2e56a2" stroke-width="2" stroke-linejoin="miter"/><polygon points="351.5,537.2 354.4,543 348.6,543" fill="#2e56a2"/><polygon points="515,640.8 509.2,643.7 509.2,637.9" fill="#2e56a2"/>
<polyline points="171.6,514.6 171.6,392 296,392" fill="none" stroke="#6aa04c" stroke-width="1.7" stroke-linejoin="miter"/><polygon points="299,392 295.6,393.9 295.6,390.1" fill="#6aa04c"/>
<polyline points="172.9,534.4 172.9,642.2" fill="none" stroke="#6aa04c" stroke-width="1.7" stroke-linejoin="miter"/><polygon points="172.9,645.2 171,641.8 174.8,641.8" fill="#6aa04c"/>
<polyline points="156.9,645.4 156.9,614.8 54.4,614.8" fill="none" stroke="#f7bf2a" stroke-width="1.7" stroke-linejoin="miter"/><polygon points="51.4,614.8 54.8,612.9 54.8,616.7" fill="#f7bf2a"/>
<polyline points="188.8,645.4 188.8,617.1 256.2,617.1" fill="none" stroke="#f7bf2a" stroke-width="1.7" stroke-linejoin="miter"/><polygon points="259.2,617.1 255.8,619 255.8,615.2" fill="#f7bf2a"/>
<text class="c" x="173.3" y="131.19" font-size="12.5" fill="#3f60a6" stroke="#3f60a6" stroke-width="0.18" textLength="64.7" lengthAdjust="spacing">会议摄像机</text>
<text class="c" x="137.2" y="176.93" font-size="12.1" fill="#3f60a6" stroke="#3f60a6" stroke-width="0.25" textLength="29" lengthAdjust="spacingAndGlyphs">HDMI</text>
<text class="c" x="280.6" y="90.43" font-size="12.1" fill="#3f60a6" stroke="#3f60a6" stroke-width="0.25" textLength="36.8" lengthAdjust="spacingAndGlyphs">RS-485</text>
<text class="c" x="179.2" y="286.19" font-size="12.5" fill="#3f60a6" stroke="#3f60a6" stroke-width="0.18" textLength="51.2" lengthAdjust="spacing">视频矩阵</text>
<text class="c" x="204.6" y="376.43" font-size="12.1" fill="#3f60a6" stroke="#3f60a6" stroke-width="0.25" textLength="36.1" lengthAdjust="spacingAndGlyphs">RS-232</text>
<text class="c" x="265.4" y="420.19" font-size="12.5" fill="#3f60a6" stroke="#3f60a6" stroke-width="0.18" textLength="78.4" lengthAdjust="spacing">数字会议主机</text>
<text class="c" x="173.6" y="462.79" font-size="12.5" fill="#3f60a6" stroke="#3f60a6" stroke-width="0.18" textLength="38.8" lengthAdjust="spacing">音频线</text>
<text class="c" x="79.4" y="546.79" font-size="12.5" fill="#3f60a6" stroke="#3f60a6" stroke-width="0.18" textLength="77.6" lengthAdjust="spacing">数字音频矩阵</text>
<text class="c" x="177.2" y="574.99" font-size="12.5" fill="#3f60a6" stroke="#3f60a6" stroke-width="0.18" textLength="37.8" lengthAdjust="spacing">音频线</text>
<text class="c" x="93.2" y="608.49" font-size="12.5" fill="#3f60a6" stroke="#3f60a6" stroke-width="0.18" textLength="38" lengthAdjust="spacing">音箱线</text>
<text class="c" x="203.8" y="609.99" font-size="12.5" fill="#3f60a6" stroke="#3f60a6" stroke-width="0.18" textLength="38" lengthAdjust="spacing">音箱线</text>
<text class="c" x="94.6" y="682.39" font-size="12.5" fill="#3f60a6" stroke="#3f60a6" stroke-width="0.18" textLength="51.6" lengthAdjust="spacing">数字功放</text>
<text class="c" x="7.4" y="779.59" font-size="12.5" fill="#3f60a6" stroke="#3f60a6" stroke-width="0.18" textLength="51.6" lengthAdjust="spacing">线性音柱</text>
<text class="c" x="263.4" y="780.19" font-size="12.5" fill="#3f60a6" stroke="#3f60a6" stroke-width="0.18" textLength="52.2" lengthAdjust="spacing">线性音柱</text>
<text class="c" x="247.2" y="550.79" font-size="12.5" fill="#3f60a6" stroke="#3f60a6" stroke-width="0.18" textLength="90.8" lengthAdjust="spacing">会议基站控制器</text>
<text class="c" y="553.49" font-size="12.5" fill="#ff0000" stroke="#ff0000" stroke-width="0" font-weight="700"><tspan x="350.4">（</tspan><tspan x="363.6" textLength="6.2" lengthAdjust="spacingAndGlyphs">1</tspan><tspan x="369.3" textLength="106.4" lengthAdjust="spacing">个基站控制器可以</tspan></text>
<text class="c" y="570.99" font-size="12.5" fill="#ff0000" stroke="#ff0000" stroke-width="0" font-weight="700"><tspan x="358.2" textLength="26.6" lengthAdjust="spacing">连接</tspan><tspan x="383.6" textLength="6.4" lengthAdjust="spacingAndGlyphs">4</tspan><tspan x="389.5" textLength="79.8" lengthAdjust="spacing">个会议基站）</tspan></text>
<text class="c" x="311.8" y="482.43" font-size="12.1" fill="#3f60a6" stroke="#3f60a6" stroke-width="0.25" textLength="27" lengthAdjust="spacingAndGlyphs">Cat 6</text>
<text class="c" x="416.8" y="446.93" font-size="12.1" fill="#3f60a6" stroke="#3f60a6" stroke-width="0.25" textLength="27" lengthAdjust="spacingAndGlyphs">Cat 6</text>
<text class="c" y="474.19" font-size="12.5" fill="#3f60a6" stroke="#3f60a6" stroke-width="0.18"><tspan x="367">（</tspan><tspan x="381.2" textLength="65" lengthAdjust="spacing">基站控制器</tspan><tspan x="446.4" textLength="21.8" lengthAdjust="spacingAndGlyphs">POE</tspan><tspan x="468.5" textLength="39" lengthAdjust="spacing">供电）</tspan></text>
<text class="c" x="511.6" y="485.13" font-size="12.1" fill="#3f60a6" stroke="#3f60a6" stroke-width="0.25" textLength="41.6" lengthAdjust="spacingAndGlyphs">5GWi-Fi</text>
<text class="c" x="485.2" y="501.29" font-size="12.5" fill="#3f60a6" stroke="#3f60a6" stroke-width="0.18" textLength="95.2" lengthAdjust="spacingAndGlyphs">数字会议基站 #1</text>
<text class="c" x="418" y="636.03" font-size="12.1" fill="#3f60a6" stroke="#3f60a6" stroke-width="0.25" textLength="27" lengthAdjust="spacingAndGlyphs">Cat 6</text>
<text class="c" y="660.39" font-size="12.5" fill="#3f60a6" stroke="#3f60a6" stroke-width="0.18"><tspan x="350">（</tspan><tspan x="364.2" textLength="65" lengthAdjust="spacing">基站控制器</tspan><tspan x="429.4" textLength="21.8" lengthAdjust="spacingAndGlyphs">POE</tspan><tspan x="451.5" textLength="39" lengthAdjust="spacing">供电）</tspan></text>
<text class="c" x="512.6" y="665.43" font-size="12.1" fill="#3f60a6" stroke="#3f60a6" stroke-width="0.25" textLength="42.4" lengthAdjust="spacingAndGlyphs">5GWi-Fi</text>
<text class="c" x="485.2" y="681.79" font-size="12.5" fill="#3f60a6" stroke="#3f60a6" stroke-width="0.18" textLength="97.2" lengthAdjust="spacingAndGlyphs">数字会议基站 #2</text>
<text class="c" x="435.6" y="118.13" font-size="12.1" fill="#3f60a6" stroke="#3f60a6" stroke-width="0.25" textLength="26.4" lengthAdjust="spacingAndGlyphs">Cat 6</text>
<text class="c" x="493.2" y="151.59" font-size="12.5" fill="#3f60a6" stroke="#3f60a6" stroke-width="0.18" textLength="37.4" lengthAdjust="spacing">分支器</text>
<text class="c" x="529.6" y="68.13" font-size="12.1" fill="#3f60a6" stroke="#3f60a6" stroke-width="0.25" textLength="26.4" lengthAdjust="spacingAndGlyphs">Cat 6</text>
<text class="c" x="636" y="68.13" font-size="12.1" fill="#3f60a6" stroke="#3f60a6" stroke-width="0.25" textLength="27" lengthAdjust="spacingAndGlyphs">Cat 6</text>
<text class="c" x="750.6" y="68.13" font-size="12.1" fill="#3f60a6" stroke="#3f60a6" stroke-width="0.25" textLength="27" lengthAdjust="spacingAndGlyphs">Cat 6</text>
<text class="c" x="853.8" y="68.13" font-size="12.1" fill="#3f60a6" stroke="#3f60a6" stroke-width="0.25" textLength="27" lengthAdjust="spacingAndGlyphs">Cat 6</text>
<text class="c" x="957.4" y="68.13" font-size="12.1" fill="#3f60a6" stroke="#3f60a6" stroke-width="0.25" textLength="27" lengthAdjust="spacingAndGlyphs">Cat 6</text>
<text class="c" x="748" y="125.63" font-size="12.1" fill="#3f60a6" stroke="#3f60a6" stroke-width="0.25" textLength="27" lengthAdjust="spacingAndGlyphs">Cat 6</text>
<text class="c" x="570" y="105.93" font-size="9.3" fill="#3d64ad" stroke="#3d64ad" stroke-width="0.05" textLength="55" lengthAdjust="spacingAndGlyphs">LCM-6021C-J</text>
<text class="c" x="683" y="106.13" font-size="9.3" fill="#3d64ad" stroke="#3d64ad" stroke-width="0.05" textLength="56.5" lengthAdjust="spacingAndGlyphs">LCM-6021D-J</text>
<text class="c" x="790.8" y="98.72" font-size="9.6" fill="#3d64ad" stroke="#3d64ad" stroke-width="0.05" textLength="51.2" lengthAdjust="spacing">会议中继器</text>
<text class="c" x="881.8" y="105.93" font-size="9.3" fill="#3d64ad" stroke="#3d64ad" stroke-width="0.05" textLength="56.4" lengthAdjust="spacingAndGlyphs">LCM-6021C-L</text>
<text class="c" x="1002" y="105.93" font-size="9.3" fill="#3d64ad" stroke="#3d64ad" stroke-width="0.05" textLength="57.4" lengthAdjust="spacingAndGlyphs">LCM-6021D-L</text>
<text class="c" x="498.8" y="317.99" font-size="12.5" fill="#3f60a6" stroke="#3f60a6" stroke-width="0.18" textLength="38.2" lengthAdjust="spacing">分支器</text>
<text class="c" x="535" y="230.83" font-size="12.1" fill="#3f60a6" stroke="#3f60a6" stroke-width="0.25" textLength="26.8" lengthAdjust="spacingAndGlyphs">Cat 6</text>
<text class="c" x="642.4" y="230.83" font-size="12.1" fill="#3f60a6" stroke="#3f60a6" stroke-width="0.25" textLength="27" lengthAdjust="spacingAndGlyphs">Cat 6</text>
<text class="c" x="763" y="230.83" font-size="12.1" fill="#3f60a6" stroke="#3f60a6" stroke-width="0.25" textLength="27" lengthAdjust="spacingAndGlyphs">Cat 6</text>
<text class="c" x="866.2" y="230.83" font-size="12.1" fill="#3f60a6" stroke="#3f60a6" stroke-width="0.25" textLength="27" lengthAdjust="spacingAndGlyphs">Cat 6</text>
<text class="c" x="971.8" y="230.83" font-size="12.1" fill="#3f60a6" stroke="#3f60a6" stroke-width="0.25" textLength="27" lengthAdjust="spacingAndGlyphs">Cat 6</text>
<text class="c" x="761.8" y="287.73" font-size="12.1" fill="#3f60a6" stroke="#3f60a6" stroke-width="0.25" textLength="27" lengthAdjust="spacingAndGlyphs">Cat 6</text>
<text class="c" x="573.8" y="268.33" font-size="9.3" fill="#3d64ad" stroke="#3d64ad" stroke-width="0.05" textLength="55.4" lengthAdjust="spacingAndGlyphs">LCM-6023C-J</text>
<text class="c" x="691.2" y="268.33" font-size="9.3" fill="#3d64ad" stroke="#3d64ad" stroke-width="0.05" textLength="56.2" lengthAdjust="spacingAndGlyphs">LCM-6023D-J</text>
<text class="c" x="803.8" y="262.02" font-size="9.6" fill="#3d64ad" stroke="#3d64ad" stroke-width="0.05" textLength="51.2" lengthAdjust="spacing">会议中继器</text>
<text class="c" x="910" y="267.93" font-size="9.3" fill="#3d64ad" stroke="#3d64ad" stroke-width="0.05" textLength="57" lengthAdjust="spacingAndGlyphs">LCM-6023C-L</text>
<text class="c" x="1013.8" y="267.93" font-size="9.3" fill="#3d64ad" stroke="#3d64ad" stroke-width="0.05" textLength="57" lengthAdjust="spacingAndGlyphs">LCM-6023D-L</text>
<text class="c" x="696.8" y="438.63" font-size="9.3" fill="#3d64ad" stroke="#3d64ad" stroke-width="0.05" textLength="65.2" lengthAdjust="spacingAndGlyphs">LCM-6023DW-J</text>
<text class="c" x="835" y="438.63" font-size="9.3" fill="#3d64ad" stroke="#3d64ad" stroke-width="0.05" textLength="65.8" lengthAdjust="spacingAndGlyphs">LCM-6023CW-L</text>
<text class="c" x="973.8" y="438.63" font-size="9.3" fill="#3d64ad" stroke="#3d64ad" stroke-width="0.05" textLength="66.2" lengthAdjust="spacingAndGlyphs">LCM-6023DW-L</text>
<text class="c" x="581.8" y="613.03" font-size="9.3" fill="#3d64ad" stroke="#3d64ad" stroke-width="0.05" textLength="64.4" lengthAdjust="spacingAndGlyphs">LCM-6023CW-J</text>
<text class="c" x="713" y="613.03" font-size="9.3" fill="#3d64ad" stroke="#3d64ad" stroke-width="0.05" textLength="65.8" lengthAdjust="spacingAndGlyphs">LCM-6023DW-J</text>
<text class="c" x="851.2" y="613.03" font-size="9.3" fill="#3d64ad" stroke="#3d64ad" stroke-width="0.05" textLength="66.8" lengthAdjust="spacingAndGlyphs">LCM-6023CW-L</text>
<text class="c" x="990.6" y="613.03" font-size="9.3" fill="#3d64ad" stroke="#3d64ad" stroke-width="0.05" textLength="66.8" lengthAdjust="spacingAndGlyphs">LCM-6023DW-L</text>
</svg>
</body>
</html>
